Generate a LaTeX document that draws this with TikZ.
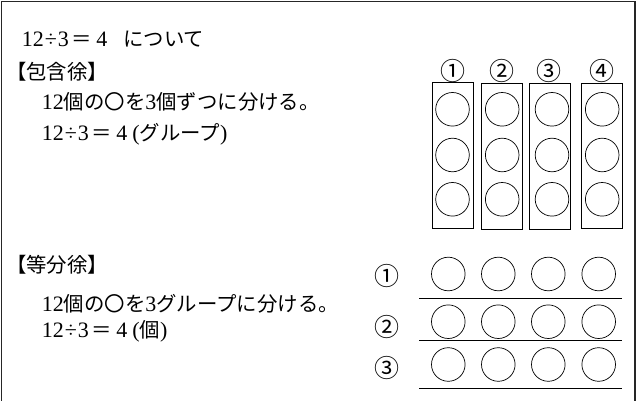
\documentclass[tikz,border=0pt]{standalone}
\usepackage{fontspec}
\setmainfont{Liberation Serif}
\newfontfamily\jp{Noto Sans CJK JP}
\newfontfamily\latf{Liberation Serif}
\newcommand\lat[1]{{\latf\fontsize{22}{26}\selectfont #1}}
\newcommand\eqn{\lat{12}\hspace{1pt}\lat{÷}\hspace{1pt}\lat{3}\hspace{3pt}＝\hspace{4pt}\lat{4}}
\tikzset{
  frame/.style={line width=1.2pt, draw=black!85},
  txt/.style={anchor=base west, inner sep=0pt, font=\fontsize{20.4}{24}\selectfont\jp},
  num/.style={inner sep=0pt, font=\fontsize{25}{28}\selectfont\jp},
  grp/.style={draw, line width=0.8pt, inner sep=0pt},
  ball/.style={draw, circle, line width=0.7pt, minimum size=33.6pt, inner sep=0pt},
  rule/.style={line width=0.9pt}
}
\begin{document}
\begin{tikzpicture}[x=1pt,y=-1pt]
\useasboundingbox (0,0) rectangle (638,401);
\draw[frame] (1.5,401) -- (1.5,1.5) -- (635,1.5) -- (635,401);

% texts
\node[txt] (t1) at (21.7,47) {\eqn\hspace{16pt}について};
\node[txt] (t2) at (6,79.3) {【包含徐】};
\node[txt] (t3) at (41.7,109.3) {\lat{12}個の〇を\lat{3}個ずつに分ける。};
\node[txt] (t4) at (41.7,141) {\eqn\hspace{5pt}\lat{(}グループ\lat{)}};
\node[txt] (t5) at (6,272.6) {【等分徐】};
\node[txt] (t6) at (41.7,311) {\lat{12}個の〇を\lat{3}グループに分ける。};
\node[txt] (t7) at (41.7,337.6) {\eqn\hspace{5pt}\lat{(}個\lat{)}};

% grouping by 3 (top right)
\node[num] (a1) at (452.7,70.7) {①};
\node[num] (a2) at (502,70.7) {②};
\node[num] (a3) at (549,70.7) {③};
\node[num] (a4) at (601.7,70.7) {④};
\draw[grp] (432.3,82.7) rectangle (473.3,228.3);
\draw[grp] (481.7,83.7) rectangle (522.3,229.3);
\draw[grp] (529.3,83.7) rectangle (570.3,229);
\draw[grp] (581.7,83.7) rectangle (622.3,228.3);
\foreach \x [count=\i] in {452.5,502.2,552,602.2}
  \foreach \y [count=\j] in {109.3,155,199.3}
    \node[ball] (p\i\j) at (\x,\y) {};

% equal sharing (bottom right)
\node[num] (b1) at (386.7,276) {①};
\node[num] (b2) at (386.7,327.3) {②};
\node[num] (b3) at (386.7,367.7) {③};
\foreach \y [count=\j] in {274,321.7,364.5}
  \foreach \x [count=\i] in {448.3,498.3,548.3,598.7}
    \node[ball] (q\j\i) at (\x,\y) {};
\coordinate (l1a) at (419.3,298.3); \coordinate (l1b) at (622.3,298.3);
\coordinate (l2a) at (419.3,340);   \coordinate (l2b) at (622.3,340);
\coordinate (l3a) at (419.3,388);   \coordinate (l3b) at (622.3,388);
\draw[rule] (l1a) -- (l1b);
\draw[rule] (l2a) -- (l2b);
\draw[rule] (l3a) -- (l3b);
\end{tikzpicture}
\end{document}
